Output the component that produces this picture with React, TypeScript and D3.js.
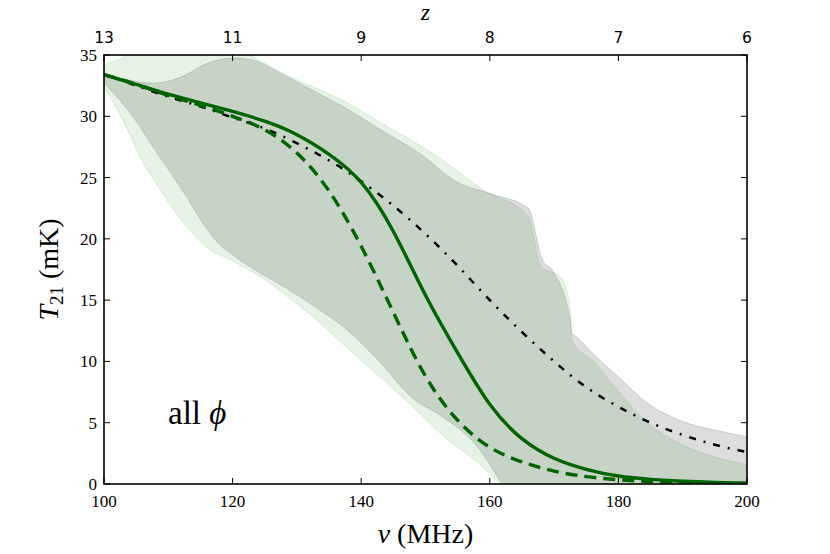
import * as d3 from 'd3';

// frequency grid for the model curves (MHz)
const nuGrid = [100, 105, 110, 115, 120, 125, 130, 135, 140, 145, 150, 155, 160, 165, 170, 175, 180, 185, 190, 195, 200];
const solidT = [33.4, 32.6, 31.8, 31.1, 30.4, 29.6, 28.5, 26.9, 24.6, 20.6, 15.4, 10.7, 6.5, 3.7, 2.1, 1.2, 0.65, 0.38, 0.22, 0.13, 0.08];
const dashedT = [33.4, 32.6, 31.7, 30.9, 30.0, 28.9, 27.0, 23.9, 19.4, 14.0, 8.8, 5.2, 3.0, 1.8, 1.05, 0.6, 0.35, 0.2, 0.12, 0.07, 0.04];
const dashDotT = [33.4, 32.5, 31.6, 30.8, 29.9, 29.0, 27.8, 26.4, 24.7, 22.7, 20.4, 17.8, 15.0, 12.4, 10.0, 7.9, 6.3, 5.0, 4.0, 3.2, 2.6];

// gray band
const grayUpperNu = [100, 103.5, 107.5, 112, 116, 120, 123, 127.5, 132.5, 137.5, 143, 149, 155, 160, 166, 168.1, 169.9, 172.5, 172.8, 173.5, 176.5, 180, 184.5, 189.5, 195, 200];
const grayUpperT = [33.5, 33.0, 32.7, 33.2, 34.3, 34.75, 34.6, 33.5, 32.1, 30.7, 28.9, 27.0, 24.6, 23.7, 22.5, 18.4, 17.3, 13.4, 12.3, 12.0, 10.4, 8.75, 6.6, 5.2, 4.4, 3.86];
const grayLowerNu = [100, 102.5, 105, 108, 111, 113, 115, 117.5, 120, 124, 128, 133, 138, 143, 148, 152, 155, 158, 162, 166, 175, 200];
const grayLowerT = [32.7, 31.3, 29.6, 27.2, 24.9, 23.3, 21.6, 19.8, 18.7, 17.3, 16.1, 14.4, 12.5, 9.9, 7.0, 5.7, 4.6, 3.1, 0, -2.5, -5, -5];

// green band
const greenUpperNu = [100, 102.5, 105, 110, 115, 120, 123, 127.5, 132.5, 137.5, 143, 148, 153, 159, 166, 168, 171, 172.5, 172.8, 176.5, 179, 185, 190, 195, 200];
const greenUpperT = [34.2, 34.7, 35.3, 35.8, 35.9, 35.5, 34.9, 33.6, 32.4, 31.2, 29.5, 28.0, 26.3, 24.0, 21.8, 17.7, 16.9, 14.4, 11.7, 9.8, 8.2, 4.8, 3.2, 2.2, 1.6];
const greenLowerNu = [100, 102, 104, 106, 108, 110, 113, 116, 120, 124, 128, 133, 138, 143, 148, 153, 158, 162, 166, 175, 200];
const greenLowerT = [32.4, 30.6, 28.5, 26.3, 24.6, 23.0, 20.9, 19.3, 18.2, 17.0, 15.5, 13.4, 11.0, 8.7, 6.3, 3.8, 1.8, -0.2, -2.5, -5, -5];

const xTicks = [100, 120, 140, 160, 180, 200];
const yTicks = [0, 5, 10, 15, 20, 25, 30, 35];
const zLabels = ['13', '11', '9', '8', '7', '6'];

const W = 830;
const H = 554;
const m = { left: 104, right: 747, top: 55, bottom: 484 };
const serif = '"Liberation Serif", "DejaVu Serif", serif';

export default function App() {
  const x = d3.scaleLinear().domain([100, 200]).range([m.left, m.right]);
  const y = d3.scaleLinear().domain([0, 35]).range([m.bottom, m.top]);

  const line = d3
    .line<number>()
    .x((_, i) => x(nuGrid[i]))
    .y((d) => y(d))
    .curve(d3.curveNatural);

  const edge = d3
    .line<[number, number]>()
    .x((d) => x(d[0]))
    .y((d) => y(d[1]))
    .curve(d3.curveMonotoneX);

  // closed outline: upper edge left->right, lower edge right->left
  const band = (upNu: number[], upT: number[], loNu: number[], loT: number[]) => {
    const up = upNu.map((n, i) => [n, upT[i]] as [number, number]);
    const lo = loNu.map((n, i) => [n, loT[i]] as [number, number]).reverse();
    return edge(up) + 'L' + edge(lo)!.slice(1) + 'Z';
  };

  const tickLen = 6;

  return (
    <svg width={W} height={H} style={{ position: 'absolute', left: 0, top: 0, background: '#fff' }}>
      <defs>
        <clipPath id="plot">
          <rect x={m.left} y={m.top} width={m.right - m.left} height={m.bottom - m.top} />
        </clipPath>
      </defs>

      <g clipPath="url(#plot)">
        <path
          d={band(grayUpperNu, grayUpperT, grayLowerNu, grayLowerT)}
          fill="rgba(128,128,128,0.27)"
          stroke="rgba(128,128,128,0.3)"
          strokeWidth={1}
        />
        <path
          d={band(greenUpperNu, greenUpperT, greenLowerNu, greenLowerT)}
          fill="rgba(0,128,0,0.1)"
          stroke="rgba(0,160,0,0.12)"
          strokeWidth={1}
        />
        <path d={line(dashDotT)!} fill="none" stroke="#000" strokeWidth={2.5} strokeDasharray="7,8,2,8" />
        <path d={line(dashedT)!} fill="none" stroke="#006400" strokeWidth={3.4} strokeDasharray="12,7" />
        <path d={line(solidT)!} fill="none" stroke="#006400" strokeWidth={3.4} />
      </g>

      {/* frame */}
      <rect
        x={m.left}
        y={m.top}
        width={m.right - m.left}
        height={m.bottom - m.top}
        fill="none"
        stroke="#000"
        strokeWidth={1.6}
      />

      {/* bottom / top ticks */}
      {xTicks.map((t, i) => (
        <g key={'x' + t}>
          <line x1={x(t)} x2={x(t)} y1={m.bottom} y2={m.bottom - tickLen} stroke="#000" strokeWidth={1} />
          <line x1={x(t)} x2={x(t)} y1={m.top} y2={m.top + tickLen} stroke="#000" strokeWidth={1} />
          <text x={x(t)} y={507} textAnchor="middle" fontFamily={serif} fontSize={17}>
            {t}
          </text>
          <text x={x(t)} y={43} textAnchor="middle" fontFamily='"DejaVu Sans", sans-serif' fontSize={15.5}>
            {zLabels[i]}
          </text>
        </g>
      ))}

      {/* left / right ticks */}
      {yTicks.map((t) => (
        <g key={'y' + t}>
          <line x1={m.left} x2={m.left + tickLen} y1={y(t)} y2={y(t)} stroke="#000" strokeWidth={1} />
          <line x1={m.right} x2={m.right - tickLen} y1={y(t)} y2={y(t)} stroke="#000" strokeWidth={1} />
          <text x={97} y={y(t) + 6} textAnchor="end" fontFamily={serif} fontSize={17}>
            {t}
          </text>
        </g>
      ))}

      {/* axis labels */}
      <text x={(m.left + m.right) / 2} y={20} textAnchor="middle" fontFamily={serif} fontStyle="italic" fontSize={24}>
        z
      </text>
      <text x={(m.left + m.right) / 2} y={543} textAnchor="middle" fontFamily={serif} fontSize={28}>
        <tspan fontStyle="italic">ν</tspan> (MHz)
      </text>
      <text
        transform={`translate(58, ${(m.top + m.bottom) / 2}) rotate(-90)`}
        textAnchor="middle"
        fontFamily={serif}
        fontSize={28}
      >
        <tspan fontStyle="italic">T</tspan>
        <tspan fontSize={19} dy={5}>21</tspan>
        <tspan dy={-5}> (mK)</tspan>
      </text>

      <text x={168} y={424} fontFamily={serif} fontSize={33}>
        all <tspan fontStyle="italic">ϕ</tspan>
      </text>
    </svg>
  );
}
